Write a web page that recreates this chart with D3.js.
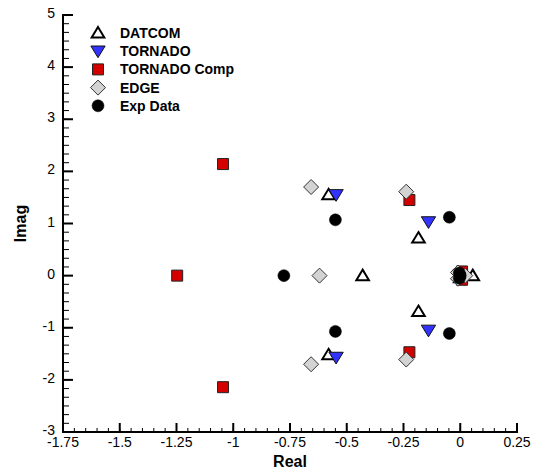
<!DOCTYPE html>
<html>
<head>
<meta charset="utf-8">
<script src="https://cdn.jsdelivr.net/npm/d3@7"></script>
<style>
  body { margin: 0; background: #fff; }
  text { font-family: Arial, "Liberation Sans", sans-serif; }
</style>
</head>
<body>
<svg id="chart" width="544" height="471"></svg>
<script>
// series: [real, imag]
let datcom = [[-0.43, 0], [-0.58, 1.55], [-0.58, -1.52], [-0.184, 0.72], [-0.184, -0.69], [0.055, 0], [0.0, 0.04], [0.0, -0.04]];
let tornado = [[-0.547, 1.55], [-0.547, -1.57], [-0.14, 1.03], [-0.14, -1.05], [0.0, 0.02], [0.0, -0.02]];
let tornadoComp = [[-1.045, 2.14], [-1.045, -2.14], [-1.247, 0], [-0.224, 1.45], [-0.224, -1.47], [0.008, 0.08], [0.008, -0.08]];
let edge = [[-0.657, 1.7], [-0.657, -1.7], [-0.62, 0], [-0.238, 1.61], [-0.238, -1.61], [0.022, 0], [-0.01, 0.06], [-0.01, -0.06]];
let expData = [[-0.55, 1.07], [-0.55, -1.07], [-0.777, 0], [-0.048, 1.12], [-0.048, -1.11], [0.0, 0], [-0.004, 0.05], [-0.004, -0.05]];

let seriesNames = ["DATCOM", "TORNADO", "TORNADO Comp", "EDGE", "Exp Data"];
let xTicks = [-1.75, -1.5, -1.25, -1, -0.75, -0.5, -0.25, 0, 0.25];
let yTicks = [-3, -2, -1, 0, 1, 2, 3, 4, 5];

let margin = {left: 63, right: 27, top: 15, bottom: 39};
let svg = d3.select("#chart");
let width = 544, height = 471;

let x = d3.scaleLinear().domain([-1.75, 0.25]).range([margin.left, width - margin.right]);
let y = d3.scaleLinear().domain([-3, 5]).range([height - margin.bottom, margin.top]);

// marker shapes
let shapes = {
  "DATCOM": {path: r => `M0,${-r}L${r*1.05},${r*0.75}L${-r*1.05},${r*0.75}Z`, fill: "#fff", stroke: "#000", sw: 2, r: 6},
  "TORNADO": {path: r => `M0,${r}L${r*1.1},${-r*0.8}L${-r*1.1},${-r*0.8}Z`, fill: "#3333ff", stroke: "#111", sw: 1, r: 6.5},
  "TORNADO Comp": {path: r => `M${-r},${-r}H${r}V${r}H${-r}Z`, fill: "#d40000", stroke: "#222", sw: 1, r: 5.5},
  "EDGE": {path: r => `M0,${-r}L${r},0L0,${r}L${-r},0Z`, fill: "#d3d3d3", stroke: "#333", sw: 1, r: 7.5},
  "Exp Data": {path: r => `M${r},0A${r},${r} 0 1,1 ${-r},0A${r},${r} 0 1,1 ${r},0Z`, fill: "#000", stroke: "#000", sw: 0.5, r: 6}
};

let allSeries = [datcom, tornado, tornadoComp, edge, expData];

allSeries.forEach(function(data, i) {
  let s = shapes[seriesNames[i]];
  svg.append("g").selectAll("path")
    .data(data)
    .enter()
    .append("path")
    .attr("d", s.path(s.r))
    .attr("transform", d => "translate(" + x(d[0]) + "," + y(d[1]) + ")")
    .attr("fill", s.fill)
    .attr("stroke", s.stroke)
    .attr("stroke-width", s.sw)
    .attr("stroke-linejoin", "miter");
});

// axes (ticks point inward)
let xMinor = d3.range(-1.75, 0.2501, 0.05);
let yMinor = d3.range(-3, 5.001, 1 / 6);

let gx = svg.append("g").attr("transform", "translate(0," + y(-3) + ")");
gx.selectAll("line.minor").data(xMinor).enter().append("line")
  .attr("x1", d => x(d)).attr("x2", d => x(d)).attr("y1", 0).attr("y2", -4)
  .attr("stroke", "#000").attr("stroke-width", 1);
gx.selectAll("line.major").data(xTicks).enter().append("line")
  .attr("x1", d => x(d)).attr("x2", d => x(d)).attr("y1", 0).attr("y2", -9)
  .attr("stroke", "#000").attr("stroke-width", 2);
gx.append("line").attr("x1", x(-1.75) - 1).attr("x2", x(0.25) + 1).attr("y1", 0).attr("y2", 0)
  .attr("stroke", "#000").attr("stroke-width", 2);
gx.selectAll("text").data(xTicks).enter().append("text")
  .attr("x", d => x(d)).attr("y", 15)
  .attr("text-anchor", "middle").attr("font-size", 14)
  .text(d => String(d));

let gy = svg.append("g").attr("transform", "translate(" + x(-1.75) + ",0)");
gy.selectAll("line.minor").data(yMinor).enter().append("line")
  .attr("y1", d => y(d)).attr("y2", d => y(d)).attr("x1", 0).attr("x2", 6)
  .attr("stroke", "#000").attr("stroke-width", 1);
gy.selectAll("line.major").data(yTicks).enter().append("line")
  .attr("y1", d => y(d)).attr("y2", d => y(d)).attr("x1", 0).attr("x2", 10)
  .attr("stroke", "#000").attr("stroke-width", 2);
gy.append("line").attr("x1", 0).attr("x2", 0).attr("y1", y(5) - 1).attr("y2", y(-3) + 1)
  .attr("stroke", "#000").attr("stroke-width", 2);
gy.selectAll("text").data(yTicks).enter().append("text")
  .attr("x", -8).attr("y", d => y(d) + 3)
  .attr("text-anchor", "end").attr("font-size", 14)
  .text(d => String(d));

svg.append("text")
  .attr("x", x(-0.75)).attr("y", 467)
  .attr("text-anchor", "middle").attr("font-size", 16).attr("font-weight", "bold")
  .text("Real");
svg.append("text")
  .attr("transform", "translate(26," + y(1) + ") rotate(-90)")
  .attr("text-anchor", "middle").attr("font-size", 16).attr("font-weight", "bold")
  .text("Imag");

// legend
let legend = svg.append("g");
seriesNames.forEach(function(name, i) {
  let s = shapes[name];
  let ly = 33 + i * 18.2;
  legend.append("path")
    .attr("d", s.path(s.r))
    .attr("transform", "translate(98," + ly + ")")
    .attr("fill", s.fill).attr("stroke", s.stroke).attr("stroke-width", s.sw);
  legend.append("text")
    .attr("x", 120).attr("y", ly + 5)
    .attr("font-size", 14).attr("font-weight", "bold")
    .text(name);
});
</script>
</body>
</html>
